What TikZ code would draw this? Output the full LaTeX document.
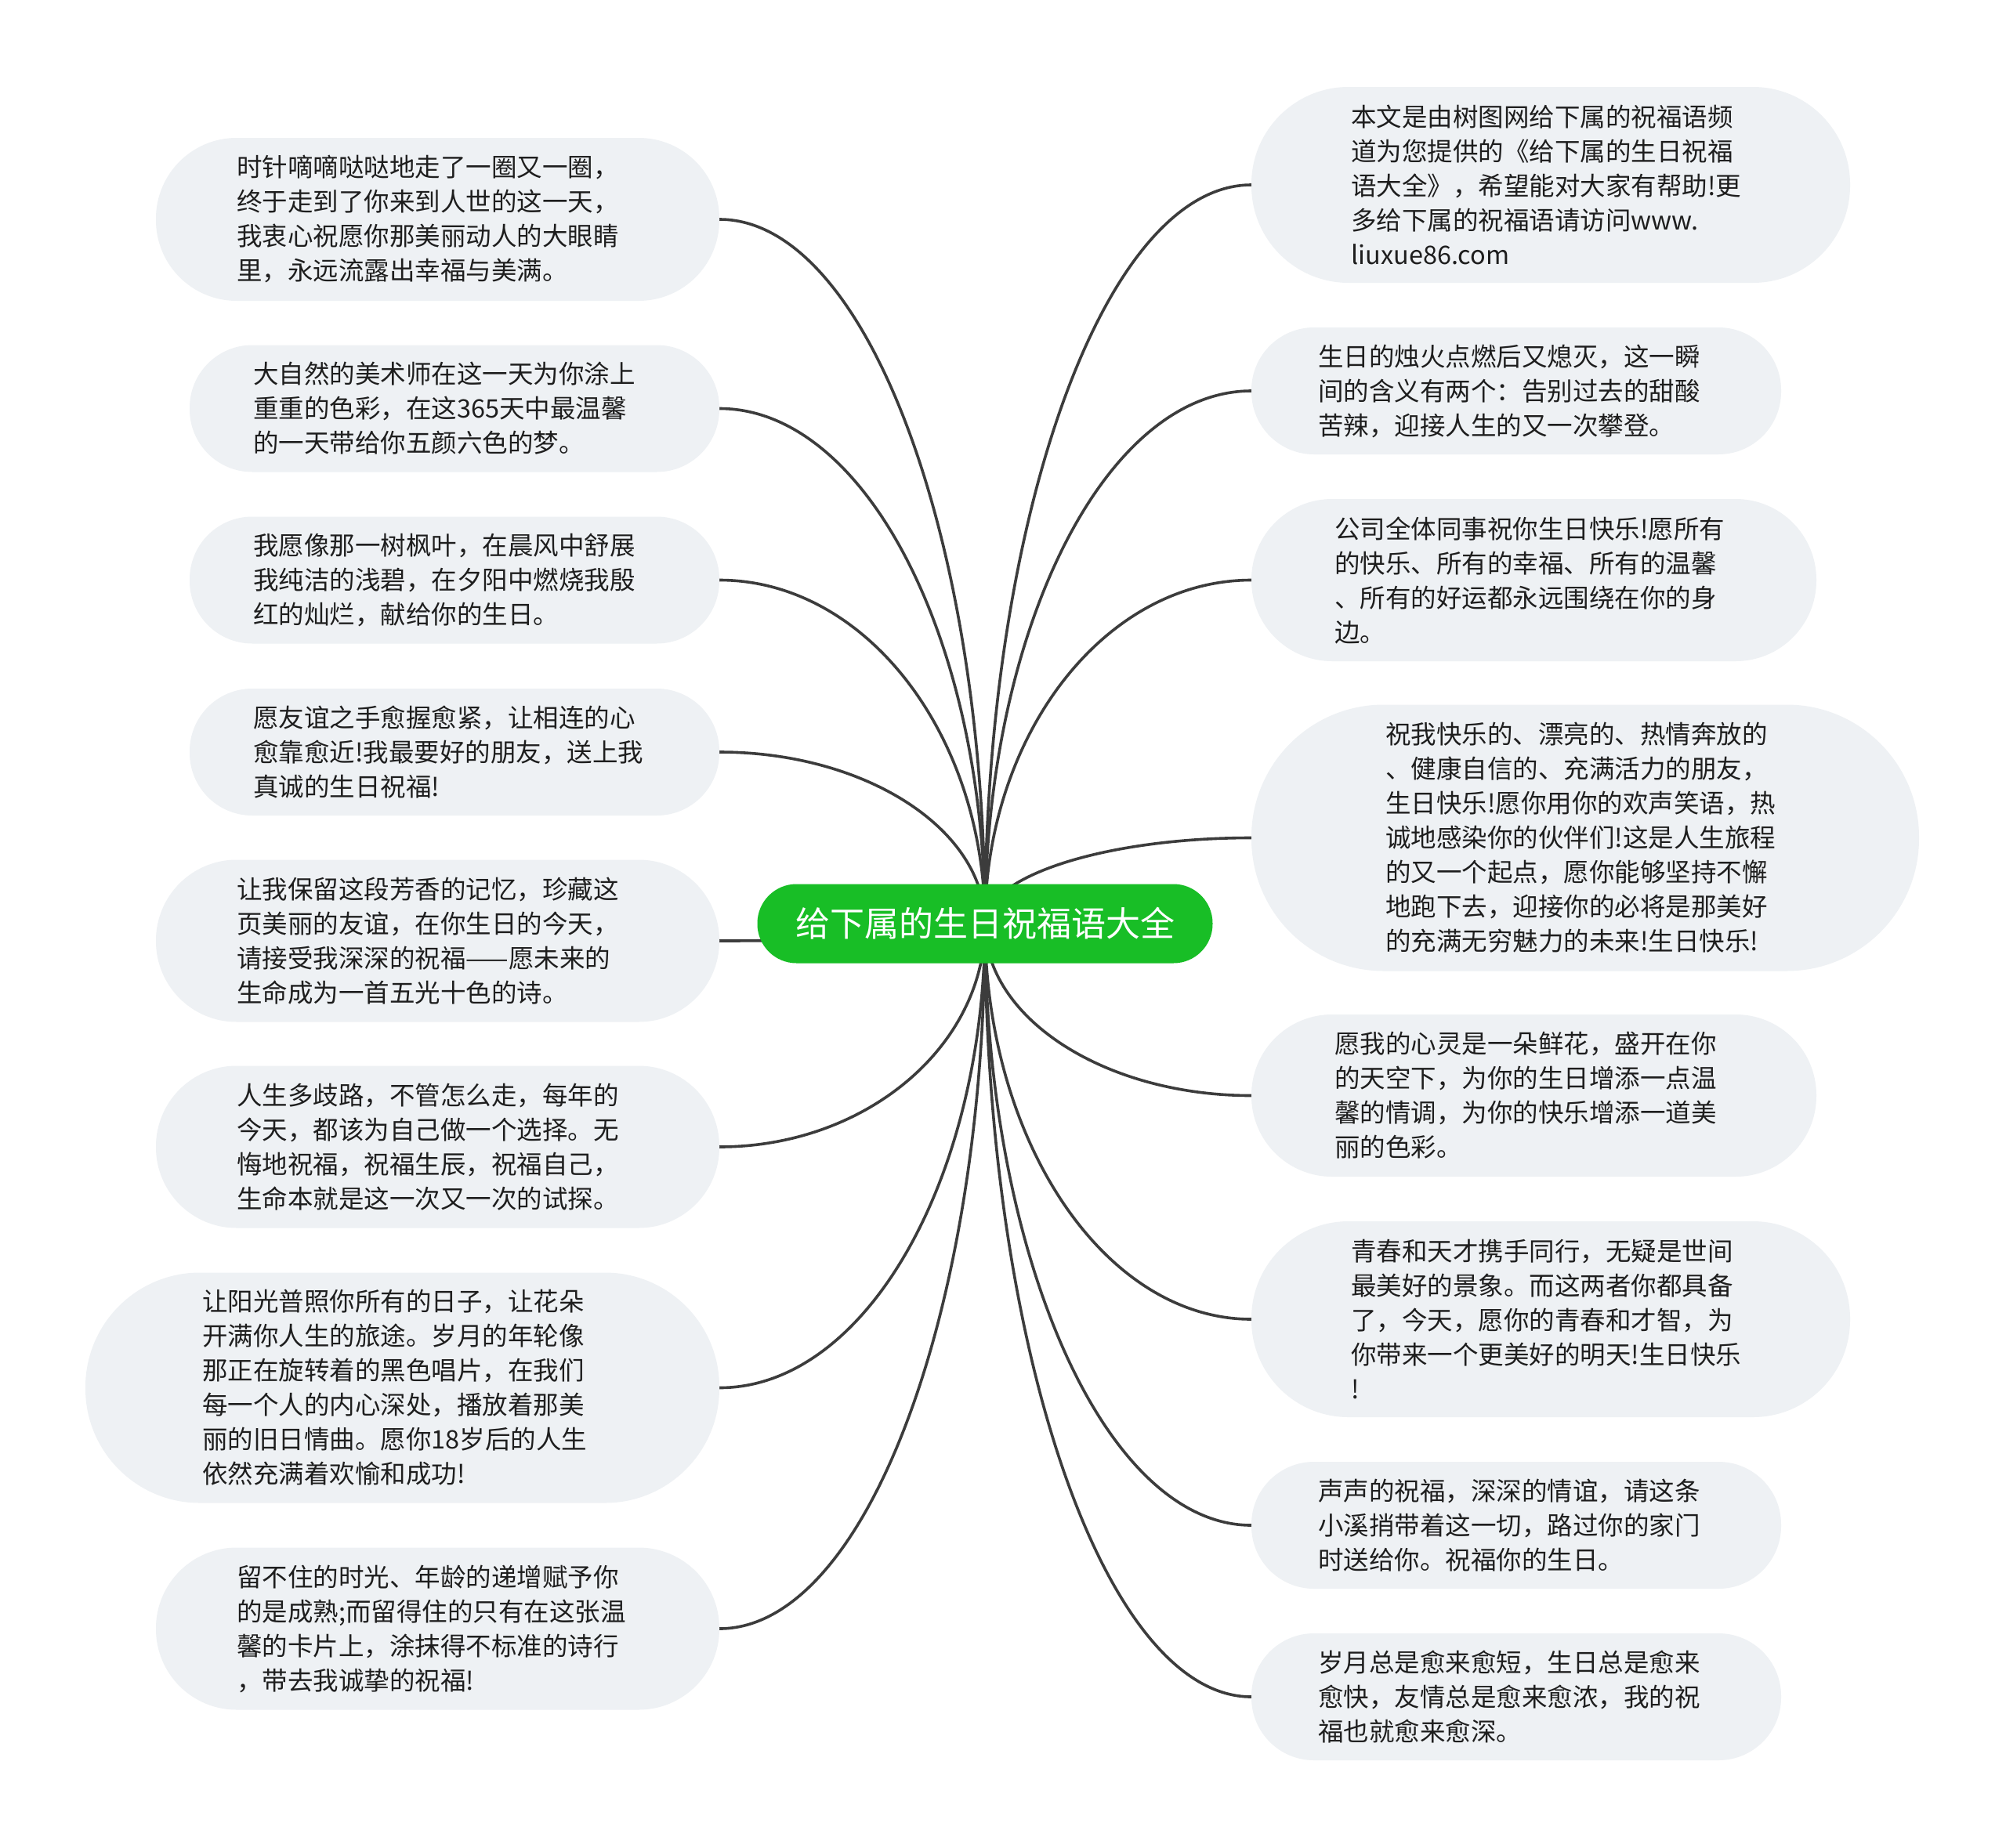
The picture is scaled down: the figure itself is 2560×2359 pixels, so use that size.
\documentclass[tikz,border=0pt]{standalone}
\usepackage{fontspec}
\setmainfont{Noto Sans CJK SC}
\usetikzlibrary{calc}
\definecolor{bubfill}{HTML}{EEF1F4}
\definecolor{linec}{HTML}{3C3C3C}
\definecolor{txtc}{HTML}{1E1E1E}
\definecolor{rootg}{HTML}{18BE26}
\pgfdeclarelayer{bg}
\pgfsetlayers{bg,main}
\newcommand\mylink[2]{\draw[conn] (root.center) .. controls ($(root.center)!0.55!(root.center |- #1.#2)$) and ($(#1.#2)!0.55!(root.center |- #1.#2)$) .. (#1.#2);}
\begin{document}
\begin{tikzpicture}[x=1pt,y=-1pt,
  bub/.style={shape=rectangle, fill=bubfill, draw=none, inner sep=0pt},
  txt/.style={anchor=west, align=left, inner sep=0pt, text=txtc, font=\fontsize{32.5}{44}\selectfont},
  conn/.style={draw=linec, line width=3.6pt},
  rootbox/.style={shape=rectangle, fill=rootg, text=white, rounded corners=50pt, minimum width=581pt, minimum height=101pt, inner sep=0pt, font=\fontsize{44}{50}\selectfont}]
\useasboundingbox (0,0) rectangle (2560,2359);

% root
\node[rootbox] (root) at (1257,1179) {给下属的生日祝福语大全};

% left bubbles
\node[bub, minimum width=719pt, minimum height=208pt, rounded corners=103pt] (L1) at (558.5,280) {};
\node[txt] (L1t) at (302,280) {时针嘀嘀哒哒地走了一圈又一圈，\\终于走到了你来到人世的这一天，\\我衷心祝愿你那美丽动人的大眼睛\\里，永远流露出幸福与美满。};

\node[bub, minimum width=676pt, minimum height=162pt, rounded corners=80pt] (L2) at (580,521.5) {};
\node[txt] (L2t) at (323,521.5) {大自然的美术师在这一天为你涂上\\重重的色彩，在这365天中最温馨\\的一天带给你五颜六色的梦。};

\node[bub, minimum width=676pt, minimum height=162pt, rounded corners=80pt] (L3) at (580,740.5) {};
\node[txt] (L3t) at (323,740.5) {我愿像那一树枫叶，在晨风中舒展\\我纯洁的浅碧，在夕阳中燃烧我殷\\红的灿烂，献给你的生日。};

\node[bub, minimum width=676pt, minimum height=162pt, rounded corners=80pt] (L4) at (580,960) {};
\node[txt] (L4t) at (323,960) {愿友谊之手愈握愈紧，让相连的心\\愈靠愈近!我最要好的朋友，送上我\\真诚的生日祝福!};

\node[bub, minimum width=719pt, minimum height=207pt, rounded corners=103pt] (L5) at (558.5,1201) {};
\node[txt] (L5t) at (302,1201) {让我保留这段芳香的记忆，珍藏这\\页美丽的友谊，在你生日的今天，\\请接受我深深的祝福——愿未来的\\生命成为一首五光十色的诗。};

\node[bub, minimum width=719pt, minimum height=207pt, rounded corners=103pt] (L6) at (558.5,1464) {};
\node[txt] (L6t) at (302,1464) {人生多歧路，不管怎么走，每年的\\今天，都该为自己做一个选择。无\\悔地祝福，祝福生辰，祝福自己，\\生命本就是这一次又一次的试探。};

\node[bub, minimum width=809pt, minimum height=294pt, rounded corners=146pt] (L7) at (513.5,1771.5) {};
\node[txt] (L7t) at (258,1771.5) {让阳光普照你所有的日子，让花朵\\开满你人生的旅途。岁月的年轮像\\那正在旋转着的黑色唱片，在我们\\每一个人的内心深处，播放着那美\\丽的旧日情曲。愿你18岁后的人生\\依然充满着欢愉和成功!};

\node[bub, minimum width=719pt, minimum height=207pt, rounded corners=103pt] (L8) at (558.5,2079) {};
\node[txt] (L8t) at (302,2079) {留不住的时光、年龄的递增赋予你\\的是成熟;而留得住的只有在这张温\\馨的卡片上，涂抹得不标准的诗行\\，带去我诚挚的祝福!};

% right bubbles
\node[bub, minimum width=764pt, minimum height=250pt, rounded corners=124pt] (R1) at (1979,236) {};
\node[txt] (R1t) at (1724,236) {本文是由树图网给下属的祝福语频\\道为您提供的《给下属的生日祝福\\语大全》，希望能对大家有帮助!更\\多给下属的祝福语请访问www.\\liuxue86.com};

\node[bub, minimum width=676pt, minimum height=162pt, rounded corners=80pt] (R2) at (1935,499) {};
\node[txt] (R2t) at (1682,499) {生日的烛火点燃后又熄灭，这一瞬\\间的含义有两个：告别过去的甜酸\\苦辣，迎接人生的又一次攀登。};

\node[bub, minimum width=721pt, minimum height=207pt, rounded corners=103pt] (R3) at (1957.5,740.5) {};
\node[txt] (R3t) at (1703,740.5) {公司全体同事祝你生日快乐!愿所有\\的快乐、所有的幸福、所有的温馨\\、所有的好运都永远围绕在你的身\\边。};

\node[bub, minimum width=852pt, minimum height=340pt, rounded corners=169pt] (R4) at (2023,1069.5) {};
\node[txt] (R4t) at (1768,1069.5) {祝我快乐的、漂亮的、热情奔放的\\、健康自信的、充满活力的朋友，\\生日快乐!愿你用你的欢声笑语，热\\诚地感染你的伙伴们!这是人生旅程\\的又一个起点，愿你能够坚持不懈\\地跑下去，迎接你的必将是那美好\\的充满无穷魅力的未来!生日快乐!};

\node[bub, minimum width=721pt, minimum height=207pt, rounded corners=103pt] (R5) at (1957.5,1398.5) {};
\node[txt] (R5t) at (1703,1398.5) {愿我的心灵是一朵鲜花，盛开在你\\的天空下，为你的生日增添一点温\\馨的情调，为你的快乐增添一道美\\丽的色彩。};

\node[bub, minimum width=764pt, minimum height=250pt, rounded corners=124pt] (R6) at (1979,1684) {};
\node[txt] (R6t) at (1724,1684) {青春和天才携手同行，无疑是世间\\最美好的景象。而这两者你都具备\\了，今天，愿你的青春和才智，为\\你带来一个更美好的明天!生日快乐\\!};

\node[bub, minimum width=676pt, minimum height=162pt, rounded corners=80pt] (R7) at (1935,1947) {};
\node[txt] (R7t) at (1682,1947) {声声的祝福，深深的情谊，请这条\\小溪捎带着这一切，路过你的家门\\时送给你。祝福你的生日。};

\node[bub, minimum width=676pt, minimum height=162pt, rounded corners=80pt] (R8) at (1935,2166) {};
\node[txt] (R8t) at (1682,2166) {岁月总是愈来愈短，生日总是愈来\\愈快，友情总是愈来愈浓，我的祝\\福也就愈来愈深。};

\begin{pgfonlayer}{bg}
\fill[white] (0,0) rectangle (2560,2359);
\foreach \n in {L1,L2,L3,L4,L5,L6,L7,L8} {\mylink{\n}{east}}
\foreach \n in {R1,R2,R3,R4,R5,R6,R7,R8} {\mylink{\n}{west}}
\end{pgfonlayer}
\end{tikzpicture}
\end{document}
